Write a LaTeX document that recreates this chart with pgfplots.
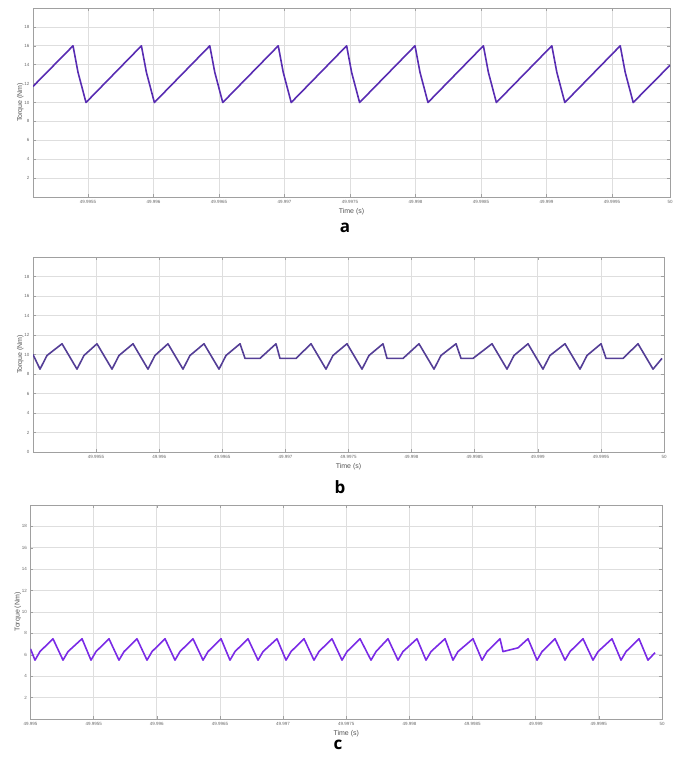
\documentclass[border=0pt]{standalone}
\usepackage{fontspec}
\setmainfont{Liberation Sans}
\newfontfamily\capfont{Open Sans}
\usepackage{pgfplots}
\pgfplotsset{compat=1.18}
\definecolor{trqA}{RGB}{88,44,178}
\definecolor{trqB}{RGB}{84,62,150}
\definecolor{trqC}{RGB}{122,42,230}
\definecolor{gridc}{RGB}{222,222,222}
\definecolor{axc}{RGB}{160,160,160}
\definecolor{tickc}{RGB}{105,105,105}

\pgfplotsset{torque/.style={
  scale only axis, anchor=north west,
  ymin=0, ymax=20, xmin=0,
  axis line style={draw=axc, line width=0.8pt},
  grid=major, grid style={draw=gridc, line width=0.8pt},
  tick align=inside, major tick length=3pt,
  tick style={draw=axc, line width=0.6pt},
  tick label style={font=\fontsize{4.5}{5}\selectfont, text=tickc},
  /pgf/number format/assume math mode=true,
  xlabel={Time (s)}, ylabel={Torque (Nm)},
  label style={font=\fontsize{7}{8}\selectfont, text=tickc!80!black},
  xlabel style={yshift=2pt},
  ylabel style={yshift=-6pt},
  every axis plot/.append style={line width=1.6pt, line join=round},
}}

\begin{document}
\begin{tikzpicture}
\path[use as bounding box] (0,0) rectangle (677pt,-760pt);

%% a
\begin{axis}[torque, at={(33pt,-8pt)}, width=637pt, height=189pt,
  xmax=9.725,
  xtick={0.84,1.84,2.84,3.84,4.84,5.84,6.84,7.84,8.84,9.725},
  xticklabels={49.9955,49.996,49.9965,49.997,49.9975,49.998,49.9985,49.999,49.9995,50},
  ytick={2,4,6,8,10,12,14,16,18}]
\addplot[trqA] coordinates {(0,11.7) (0.611,16) (0.687,13.2) (0.809,10) (1.655,16) (1.731,13.2) (1.853,10)
  (2.699,16) (2.775,13.2) (2.897,10) (3.744,16) (3.820,13.2) (3.942,10) (4.788,16) (4.864,13.2) (4.986,10)
  (5.832,16) (5.908,13.2) (6.030,10) (6.876,16) (6.952,13.2) (7.074,10) (7.921,16) (7.997,13.2) (8.119,10)
  (8.965,16) (9.041,13.2) (9.163,10) (9.725,13.94)};
\end{axis}
\node[font=\capfont\bfseries\fontsize{17}{17}\selectfont] at (345pt,-228pt) {a};

%% b
\begin{axis}[torque, at={(33pt,-257pt)}, width=631pt, height=195pt,
  xmax=10,
  xtick={1,2,3,4,5,6,7,8,9,10},
  xticklabels={49.9955,49.996,49.9965,49.997,49.9975,49.998,49.9985,49.999,49.9995,50},
  ytick={0,2,4,6,8,10,12,14,16,18}]
\addplot[trqB] coordinates {(0,10.0) (0.111,8.5) (0.222,9.9) (0.460,11.1)
  (0.697,8.5) (0.808,9.9) (1.014,11.1) (1.252,8.5) (1.363,9.9) (1.585,11.1)
  (1.822,8.5) (1.933,9.9) (2.139,11.1) (2.377,8.5) (2.488,9.9) (2.710,11.1)
  (2.948,8.5) (3.059,9.9) (3.281,11.1) (3.360,9.6) (3.597,9.6) (3.851,11.1)
  (3.914,9.6) (4.168,9.6) (4.406,11.1) (4.643,8.5) (4.754,9.9) (4.976,11.1)
  (5.214,8.5) (5.325,9.9) (5.547,11.1) (5.610,9.6) (5.864,9.6) (6.117,11.1)
  (6.355,8.5) (6.466,9.9) (6.704,11.1) (6.783,9.6) (6.973,9.6) (7.274,11.1)
  (7.512,8.5) (7.623,9.9) (7.845,11.1) (8.082,8.5) (8.193,9.9) (8.431,11.1)
  (8.669,8.5) (8.780,9.9) (9.002,11.1) (9.081,9.6) (9.350,9.6) (9.588,11.1)
  (9.826,8.5) (9.968,9.6)};
\end{axis}
\node[font=\capfont\bfseries\fontsize{17}{17}\selectfont] at (340pt,-487pt) {b};

%% c
\begin{axis}[torque, at={(30.5pt,-505pt)}, width=631.5pt, height=214pt,
  xmax=10,
  xtick={0,1,2,3,4,5,6,7,8,9,10},
  xticklabels={49.995,49.9955,49.996,49.9965,49.997,49.9975,49.998,49.9985,49.999,49.9995,50},
  ytick={2,4,6,8,10,12,14,16,18}]
\addplot[trqC] coordinates {(0,6.56) (0.071,5.5) (0.150,6.3) (0.356,7.5)
  (0.515,5.5) (0.594,6.3) (0.816,7.5) (0.958,5.5) (1.037,6.3) (1.243,7.5)
  (1.401,5.5) (1.481,6.3) (1.686,7.5) (1.845,5.5) (1.924,6.3) (2.130,7.5)
  (2.288,5.5) (2.367,6.3) (2.573,7.5) (2.732,5.5) (2.811,6.3) (3.017,7.5)
  (3.159,5.5) (3.238,6.3) (3.444,7.5) (3.603,5.5) (3.682,6.3) (3.903,7.5)
  (4.046,5.5) (4.125,6.3) (4.331,7.5) (4.489,5.5) (4.568,6.3) (4.774,7.5)
  (4.933,5.5) (5.012,6.3) (5.218,7.5) (5.392,5.5) (5.471,6.3) (5.661,7.5)
  (5.819,5.5) (5.898,6.3) (6.120,7.5) (6.263,5.5) (6.342,6.3) (6.564,7.5)
  (6.690,5.5) (6.769,6.3) (7.007,7.5) (7.150,5.5) (7.229,6.3) (7.435,7.5)
  (7.482,6.3) (7.720,6.65) (7.878,7.5) (8.021,5.5) (8.100,6.3) (8.306,7.5)
  (8.464,5.5) (8.543,6.3) (8.749,7.5) (8.907,5.5) (8.987,6.3) (9.208,7.5)
  (9.351,5.5) (9.430,6.3) (9.636,7.5) (9.778,5.5) (9.889,6.2)};
\end{axis}
\node[font=\capfont\bfseries\fontsize{17}{17}\selectfont] at (338pt,-745pt) {c};
\end{tikzpicture}
\end{document}
